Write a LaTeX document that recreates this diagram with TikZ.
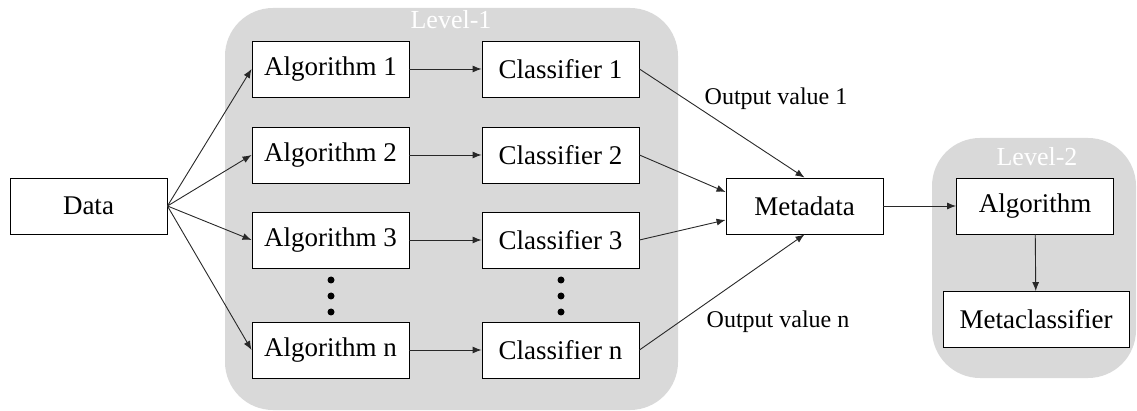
\documentclass[tikz,border=0pt]{standalone}
\usepackage{fontspec}
\setmainfont{Liberation Serif}
\usetikzlibrary{arrows.meta}
\definecolor{panel}{RGB}{217,217,217}
\definecolor{wire}{RGB}{40,40,40}
\tikzset{
  box/.style={draw=black, line width=0.9pt, fill=white, minimum width=157pt, minimum height=56pt, inner sep=0pt,
    font=\fontsize{27}{31}\selectfont},
  panelbox/.style={fill=panel, rounded corners=48pt},
  paneltitle/.style={text=white, font=\fontsize{26}{30}\selectfont},
  link/.style={draw=wire, line width=0.9pt, -{Latex[length=9pt,width=7pt]}},
  lab/.style={font=\fontsize{24}{28}\selectfont},
  dot/.style={circle, fill=black, inner sep=0pt, minimum size=7pt}
}
\begin{document}
\begin{tikzpicture}[x=1pt,y=-1pt]
\useasboundingbox (0,0) rectangle (1137,411);
% panels
\fill[panelbox] (225,8) rectangle (678,410);
\fill[panelbox] (932,138) rectangle (1136,378);
\node[paneltitle] (t1) at (451,20) {Level-1};
\node[paneltitle] (t2) at (1037,157) {Level-2};
% input
\node[box] (data) at (88.5,206) {Data};
% level-1 rows
\node[box] (a1) at (330.5,69) {Algorithm 1};
\node[box] (a2) at (330.5,155) {Algorithm 2};
\node[box] (a3) at (330.5,240) {Algorithm 3};
\node[box] (an) at (330.5,350) {Algorithm n};
\node[box] (c1) at (560.5,69) {Classifier 1};
\node[box] (c2) at (560.5,155) {Classifier 2};
\node[box] (c3) at (560.5,240) {Classifier 3};
\node[box] (cn) at (560.5,350) {Classifier n};
\foreach \y [count=\i] in {280,296,312} {
  \node[dot] (da\i) at (331,\y) {};
  \node[dot] (dc\i) at (561,\y) {};
}
% meta level
\node[box] (meta) at (804.5,206) {Metadata};
\node[box] (alg) at (1035,206) {Algorithm};
\node[box, minimum width=186pt] (mc) at (1036,319.5) {Metaclassifier};
% labels
\node[lab] (o1) at (776,99) {Output value 1};
\node[lab] (on) at (778,322) {Output value n};
% connectors
\foreach \a in {a1,a2,a3,an} \draw[link] (data.east) -- (\a.west);
\draw[link] (a1) -- (c1);
\draw[link] (a2) -- (c2);
\draw[link] (a3) -- (c3);
\draw[link] (an) -- (cn);
\draw[link] (c1.east) -- (meta.north);
\draw[link] (c2.east) -- ([yshift=14pt]meta.west);
\draw[link] (c3.east) -- ([yshift=-14pt]meta.west);
\draw[link] (cn.east) -- (meta.south);
\draw[link] (meta) -- (alg);
\draw[link] (alg) -- (mc);
\end{tikzpicture}
\end{document}
